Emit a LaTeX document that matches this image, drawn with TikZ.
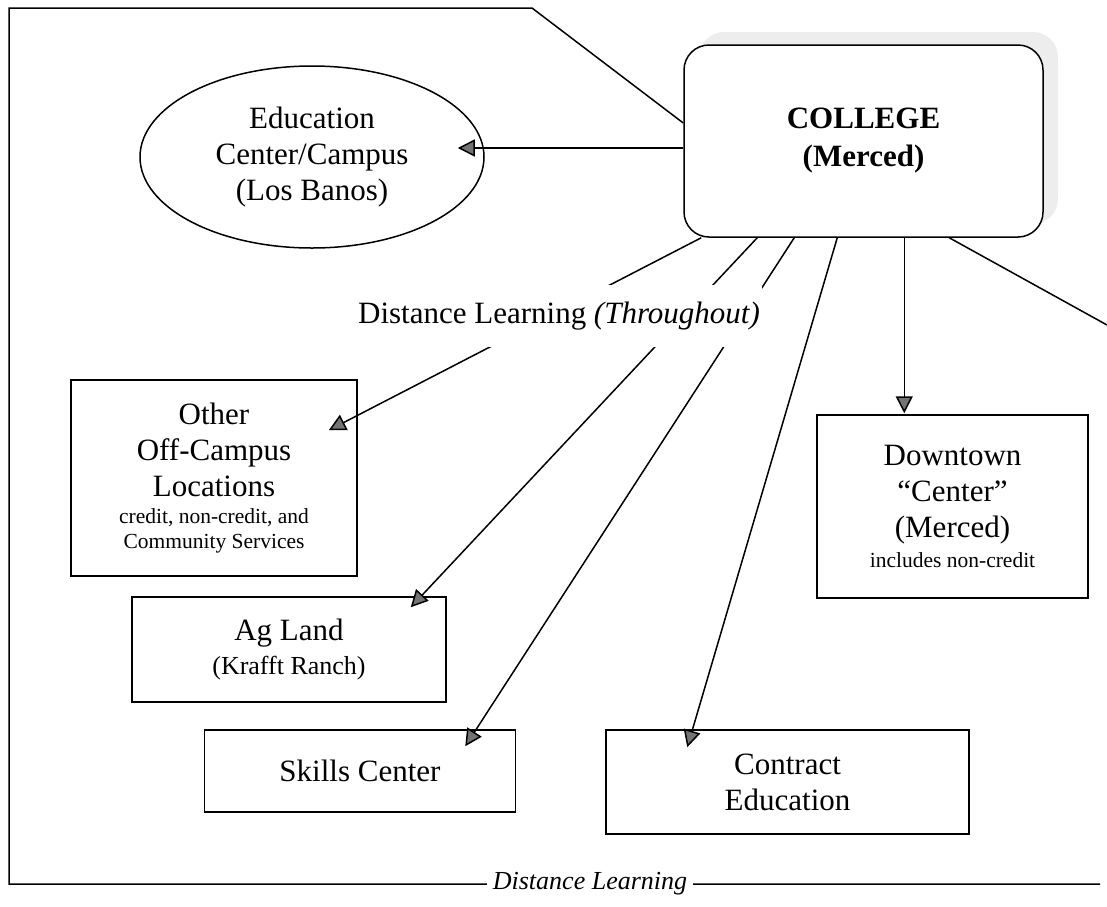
\documentclass[tikz,border=0pt]{standalone}
\usepackage{fontspec}
\setmainfont{Liberation Serif}
\usetikzlibrary{arrows.meta,calc,shapes.geometric,shadows}

\newcommand{\bigtext}{\fontsize{31}{36}\selectfont}
\newcommand{\midtext}{\fontsize{26}{31}\selectfont}
\newcommand{\smalltext}{\fontsize{21.5}{25}\selectfont}

\begin{document}
\begin{tikzpicture}[x=1pt,y=-1pt]
       \tikzstyle{every node}=[font=\bigtext]
       \tikzstyle{site}=[draw, line width=1.5pt, rectangle, align=center, inner sep=0pt]
       \tikzstyle{edge}=[line width=1.5pt]
       \tikzstyle{link}=[edge, -{Triangle[length=17pt,width=17pt,fill=black!55]}]

   \useasboundingbox (0,0) rectangle (1107,906);

% main college
   \node[draw, line width=1.5pt, fill=white, rounded corners=25pt,
         drop shadow={shadow xshift=15pt, shadow yshift=13pt, fill=black!7, opacity=1},
         minimum width=359pt, minimum height=192pt, align=center,
         font=\fontsize{31}{38}\selectfont\bfseries] (college) at (863.5,141) {COLLEGE\\(Merced)};

% education center
   \node[draw, line width=1.5pt, ellipse, minimum width=344pt, minimum height=182pt,
         inner sep=0pt, align=center] (campus) at (312,157) {Education\\Center/Campus\\(Los Banos)};

% off-campus sites
   \node[site, minimum width=286pt, minimum height=196pt] (other) at (214,478)
      {Other\\Off-Campus\\Locations\\[-9pt]\smalltext credit, non-credit, and\\[-11pt]\smalltext Community Services};
   \node[site, minimum width=314pt, minimum height=105pt] (agland) at (289,649.5)
      {Ag Land\\[-2pt]\midtext (Krafft Ranch)};
   \node[site, minimum width=311pt, minimum height=82pt] (skills) at (360,771) {Skills Center};
   \node[site, minimum width=363pt, minimum height=104pt] (contract) at (787.5,782) {Contract\\Education};
   \node[site, minimum width=271pt, minimum height=183pt] (downtown) at (952.5,506.5)
      {Downtown\\“Center”\\(Merced)\\[-6pt]\smalltext includes non-credit};

% outer frame
   \coordinate (rightcut) at (1107,325);
   \draw[edge] ($(college.west)+(0,-18)$) -- (532,8) -- (9,8) -- (9,884) -- (1100,884);
   \draw[edge] ($(college.south west)+(266,0)$) -- (rightcut);

% links
   \draw[link] ($(college.west)+(0,7)$) -- ($(campus.east)+(-27,-9)$);
   \draw[link] ($(college.south west)+(18,0)$) -- ($(other.north east)+(-29,51)$);
   \draw[link] ($(college.south west)+(74,0)$) -- ($(agland.north east)+(-36,11)$);
   \draw[link] ($(college.south west)+(111,0)$) -- ($(skills.north east)+(-51,17)$);
   \draw[link] ($(college.south west)+(154,0)$) -- ($(contract.north west)+(82,18)$);
   \draw[link] ($(college.south west)+(221,0)$) -- ($(downtown.north west)+(88,-1)$);

% labels
   \node[fill=white, inner xsep=2pt, minimum height=62pt] (throughout) at (559,316)
      {Distance Learning \textit{(Throughout)}};
   \node[fill=white, inner xsep=6pt, inner ysep=1pt, font=\fontsize{26}{30}\selectfont\itshape]
      (distance) at (590,884) {Distance Learning};

\end{tikzpicture}
\end{document}
